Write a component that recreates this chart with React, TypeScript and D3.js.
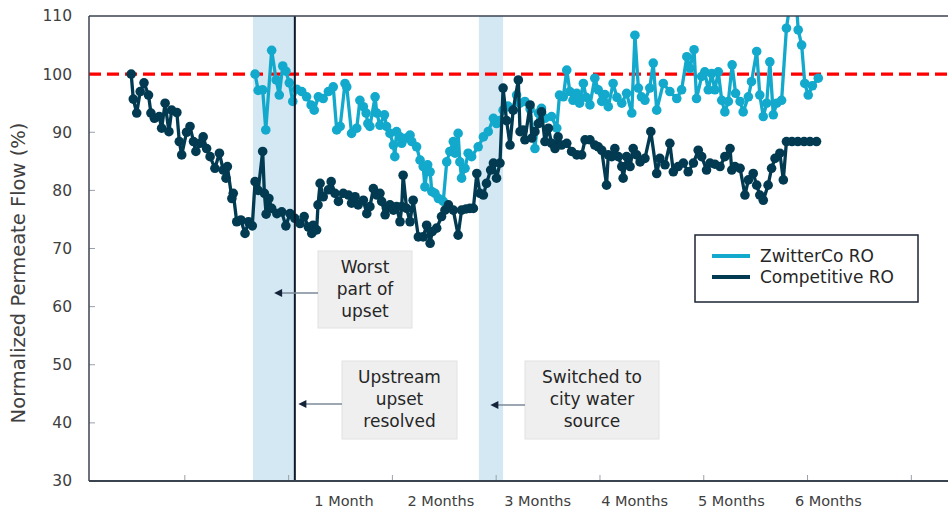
import React from "react";
import * as d3 from "d3";

// ---- Data ----
const competitiveDays = [14.5,15.1,16.1,17.1,18.2,19.5,20.2,21.2,22.6,23.3,24.3,25.4,26.2,27.7,28.4,29.1,30.5,31.5,32.5,33.2,34.4,35.3,36.3,37.3,38.7,40.0,41.1,41.9,42.3,43.6,44.0,45.0,46.2,47.4,48.4,49.5,50.3,51.2,52.5,53.0,53.5,54.3,55.1,56.6,58.0,59.2,60.4,61.8,
63.3,64.5,65.7,66.7,67.1,68.1,68.5,69.1,70.0,71.5,72.3,73.4,74.4,75.8,77.3,78.2,79.2,80.1,81.6,82.6,83.5,84.5,85.5,86.4,86.9,87.9,88.3,89.3,90.3,91.2,92.2,92.7,93.1,94.1,95.1,96.0,97.5,98.9,99.9,100.9,101.5,102.8,104.2,105.2,106.2,107.6,109.0,110.0,111.3,112.4,
113.4,114.4,115.3,116.3,117.2,118.4,119.2,120.1,121.1,122.0,123.0,124.0,124.9,126.4,126.9,127.8,128.3,129.8,130.3,131.2,132.2,133.1,134.1,135.1,136.0,137.0,137.9,138.9,140.4,141.8,143.3,144.7,145.7,147.1,148.5,149.5,150.5,151.9,152.4,153.4,154.3,155.3,156.3,156.7,157.7,158.7,159.6,160.6,161.6,163.0,164.7,
166.4,167.3,168.8,170.2,171.2,172.6,174.1,175.5,177.0,178.4,179.4,180.8,181.8,183.2,184.7,186.1,187.6,188.1,189.0,190.5,191.9,192.9,194.3,195.3,196.2,197.2,198.6,199.6,200.6,202.0,203.0,203.9,205.5,207.2,209.0,210.7,212.6];
const competitiveFlow = [100,95.7,93.3,97,98.5,96.4,93.3,92.4,92.7,90.7,95,90.1,93.8,93.4,88.4,86.1,90,91,88.4,86.7,88.1,89.2,87.2,85.8,83.8,86.4,83.5,82.1,84.1,78.6,79.5,74.6,74.9,72.6,74.6,73.9,81.5,80,86.7,79.5,75.9,78.6,76.9,76,76.3,73.9,76,75.2,
74.3,75.5,73.7,72.6,74,73.2,77.5,81.2,78.9,80.1,81.5,79.5,78.1,79.5,79.2,77.8,78.9,77.5,78.3,76,77.2,80.3,79.2,79.5,78.1,75.8,76.9,77.5,76.6,77.2,74.6,77.2,82.6,76.9,74.6,78.3,72,72,74,70.9,72.9,73.5,75.5,76.6,77.5,76.6,72.3,76.6,76.8,76.9,
76.9,82.9,79.5,79.2,81.2,83.5,84.7,82.1,84.7,97.6,92,87.8,93.8,99,90.1,90.4,88.7,94.7,89,90.1,91.5,93.5,88.4,90.7,88.1,87.2,89.2,87.8,88.1,86.7,86.1,86.1,88.7,88.7,87.8,87.5,86.9,80.9,86.1,85.8,87.2,85.8,84.1,82.1,85.8,84.1,87.2,86.1,84.9,85.5,90.1,
82.9,85.5,84.4,88.1,83.2,84.1,84.7,83.2,84.7,86.9,85.8,83.5,84.7,84.5,84.1,85.8,87.2,83.5,84.1,83.8,79.2,81.8,82.9,80.9,79.2,78.3,80.9,83.8,85.5,86.4,81.8,88.4,88.4,88.4,88.4,88.4,88.4];

const zwitterDays = [50.3,51.2,52.5,53.4,55.1,56.4,57.3,58.3,59.2,60.2,61.2,62.3,63.8,65.2,66.5,67.4,68.6,70.0,71.5,72.9,73.9,74.9,76.3,76.8,78.2,79.7,80.6,81.6,82.4,82.9,83.5,85.0,85.5,86.4,87.7,88.3,89.3,90.3,90.7,91.2,92.2,92.7,94.1,95.1,95.6,97.0,98.0,98.9,99.4,100.2,100.9,101.4,102.3,103.3,104.7,105.7,106.6,107.6,108.1,109.0,109.5,110.0,111.0,111.9,112.9,114.8,116.3,117.7,119.2,120.1,121.1,122.0,123.4,124.9,125.9,126.9,128.3,129.8,131.2,132.2,133.1,134.1,136.0,137.5,138.3,139.4,140.4,141.3,142.2,143.3,144.1,145.2,146.0,147.1,148.5,149.5,150.5,151.4,152.4,153.8,154.9,156.3,157.7,159.2,160.1,161.1,162.0,163.0,164.4,165.4,166.4,168.3,170.2,172.2,173.6,175.1,176.0,177.2,177.9,179.4,180.3,181.3,182.3,183.2,184.2,185.2,186.1,187.1,188.2,189.2,190.5,191.4,192.9,193.8,195.3,196.2,197.2,198.2,199.1,200.1,201.1,202.5,203.9,204.9,206.8,207.3,208.3,209.2,210.2,211.4,213.1];
const zwitterFlow = [100,97.2,97.3,90.4,104.1,99,96.4,101.4,100.5,98.5,95.3,97.4,97,96.1,94.7,93.8,96.1,95.8,97,97.8,90.4,91,98.4,97.8,89.8,90.7,95.5,94.4,93.3,91.5,91,96.1,93.3,91.2,93,91,89.8,87.8,85.8,90.1,89.2,88.1,89,89.5,88.4,87.5,85.2,84.1,80.6,84.4,83.2,79.8,79.5,78.6,78.1,84.9,86.7,88.4,86.4,89.8,84.9,82.1,83.8,86.4,85.8,87.5,89.2,90.1,92.4,91.5,92,93.8,94.5,93.8,96.4,95,95.3,94,87.2,93.3,94.1,92.4,92.7,90.7,96.4,96.1,100.7,97,95.5,96.7,95,98.4,96,94.7,99.3,97.3,95.3,96.5,94.4,98.4,96,95,96.7,93.3,106.7,97.6,96.1,95.5,97.6,101.9,93.8,98.4,97,95.8,97.3,103,101,104.2,95.8,99.6,100.4,97.3,100.1,97.3,100.4,95.5,93.5,95.3,101.6,96.7,95.3,93.5,96.1,98.7,103.9,96.4,92.7,95,102.1,93,95,95.5,107.9,112,112,107.6,105,98.4,96.4,98,99.3];

const seriesNames = ["ZwitterCo RO", "Competitive RO"];
const yTicks = [30, 40, 50, 60, 70, 80, 90, 100, 110];
const xTickDays = [30, 60, 90, 120, 150, 180, 210, 240];
const monthLabels = ["1 Month", "2 Months", "3 Months", "4 Months", "5 Months", "6 Months"];
const monthLabelDays = [76, 104, 132, 160, 188, 216];
const bandStart = [49.7, 115];
const bandEnd = [61.8, 122];
const resolvedDay = 61.8;
const targetFlow = 100;
const noteLines = [["Worst", "part of", "upset"], ["Upstream", "upset", "resolved"], ["Switched to", "city water", "source"]];
const noteArrowDays = [55.3, 62.3, 117.8];

const LIGHT = "#12a9cc";
const DARK = "#013a51";
const FONT = "'DejaVu Sans', sans-serif";

export default function App() {
  const W = 948, H = 513;
  const L = 89, R = 948, T = 16, B = 481;
  const x = d3.scaleLinear().domain([2.3, 250.6]).range([L, R]);
  const y = d3.scaleLinear().domain([30, 110]).range([B, T]);

  const light = zwitterDays.map((d, i) => [d, zwitterFlow[i]] as [number, number]);
  const dark = competitiveDays.map((d, i) => [d, competitiveFlow[i]] as [number, number]);
  const line = d3.line<[number, number]>().x(d => x(d[0])).y(d => y(d[1]));

  // annotation boxes layout
  const boxes = [
    { x0: 318, x1: 412, y0: 251, y1: 328, ay: 293 },
    { x0: 342, x1: 457, y0: 361, y1: 439, ay: 404 },
    { x0: 525, x1: 659, y0: 361, y1: 439, ay: 405 },
  ];

  return (
    <svg width={W} height={H} style={{ position: "absolute", left: 0, top: 0, background: "#fff" }} fontFamily={FONT}>
      <defs>
        <clipPath id="plot">
          <rect x={L} y={T} width={R - L} height={B - T} />
        </clipPath>
        <marker id="arr" viewBox="0 0 10 10" refX="1" refY="5" markerWidth="9" markerHeight="8" markerUnits="userSpaceOnUse" orient="auto-start-reverse">
          <path d="M0,0 L10,5 L0,10 z" fill="#14233a" />
        </marker>
      </defs>

      {/* shaded bands */}
      {bandStart.map((s, i) => (
        <rect key={i} x={x(s)} y={T} width={x(bandEnd[i]) - x(s)} height={B - T} fill="#d3e8f3" />
      ))}

      {/* inward ticks */}
      {yTicks.slice(1, -1).map(t => (
        <line key={t} x1={L} x2={L + 6} y1={y(t)} y2={y(t)} stroke="#9aa0a8" strokeWidth={1} />
      ))}
      {xTickDays.map(t => (
        <line key={t} x1={x(t)} x2={x(t)} y1={B} y2={B - 6} stroke="#9aa0a8" strokeWidth={1} />
      ))}

      {/* target line */}
      <line x1={L} x2={R} y1={y(targetFlow)} y2={y(targetFlow)} stroke="#ff0000" strokeWidth={3.2} strokeDasharray="12 6" />

      <g clipPath="url(#plot)">
        <path d={line(light) || ""} fill="none" stroke={LIGHT} strokeWidth={3.3} strokeLinejoin="round" />
        {light.map((d, i) => (
          <circle key={i} cx={x(d[0])} cy={y(d[1])} r={4.8} fill={LIGHT} />
        ))}
        <path d={line(dark) || ""} fill="none" stroke={DARK} strokeWidth={3.3} strokeLinejoin="round" />
        {dark.map((d, i) => (
          <circle key={i} cx={x(d[0])} cy={y(d[1])} r={4.8} fill={DARK} />
        ))}
      </g>

      {/* resolved vertical line */}
      <line x1={x(resolvedDay)} x2={x(resolvedDay)} y1={T} y2={B} stroke="#0e1a2c" strokeWidth={2} />

      {/* frame */}
      <line x1={L} x2={R} y1={T} y2={T} stroke="#3a4350" strokeWidth={1.5} />
      <line x1={L} x2={L} y1={T} y2={B} stroke="#3a4350" strokeWidth={1.5} />
      <line x1={L} x2={R} y1={B} y2={B} stroke="#3a4350" strokeWidth={2} />

      {/* y tick labels */}
      {yTicks.map(t => (
        <text key={t} x={72} y={y(t)} dy="0.35em" textAnchor="end" fontSize={15.5} fill="#404040">{t}</text>
      ))}
      {/* month labels */}
      {monthLabels.map((m, i) => (
        <text key={m} x={x(monthLabelDays[i])} y={506} textAnchor="middle" fontSize={14.5} fill="#404040">{m}</text>
      ))}

      {/* y axis title */}
      <text transform={`translate(25,${273}) rotate(-90)`} textAnchor="middle" fontSize={19.5} fill="#404040">Normalized Permeate Flow (%)</text>

      {/* annotations */}
      {boxes.map((b, i) => (
        <g key={i}>
          <rect x={b.x0} y={b.y0} width={b.x1 - b.x0} height={b.y1 - b.y0} fill="#efefef" stroke="#e2e2e2" strokeWidth={1} />
          {noteLines[i].map((t, j) => (
            <text key={j} x={(b.x0 + b.x1) / 2} y={b.y0 + 16 + j * 22} dy="0.35em" textAnchor="middle" fontSize={17} fill="#262626">{t}</text>
          ))}
          <line x1={b.x0} x2={x(noteArrowDays[i]) + 9} y1={b.ay} y2={b.ay} stroke="#7d8a98" strokeWidth={1.5} markerEnd="url(#arr)" />
        </g>
      ))}

      {/* legend */}
      <rect x={695} y={235} width={223} height={67} fill="#fff" stroke="#1b2535" strokeWidth={1.5} />
      <line x1={712} x2={750} y1={256} y2={256} stroke={LIGHT} strokeWidth={4} />
      <line x1={712} x2={750} y1={277} y2={277} stroke={DARK} strokeWidth={4} />
      <text x={760} y={256} dy="0.35em" fontSize={17} fill="#262626">{seriesNames[0]}</text>
      <text x={760} y={277} dy="0.35em" fontSize={17} fill="#262626">{seriesNames[1]}</text>
    </svg>
  );
}
